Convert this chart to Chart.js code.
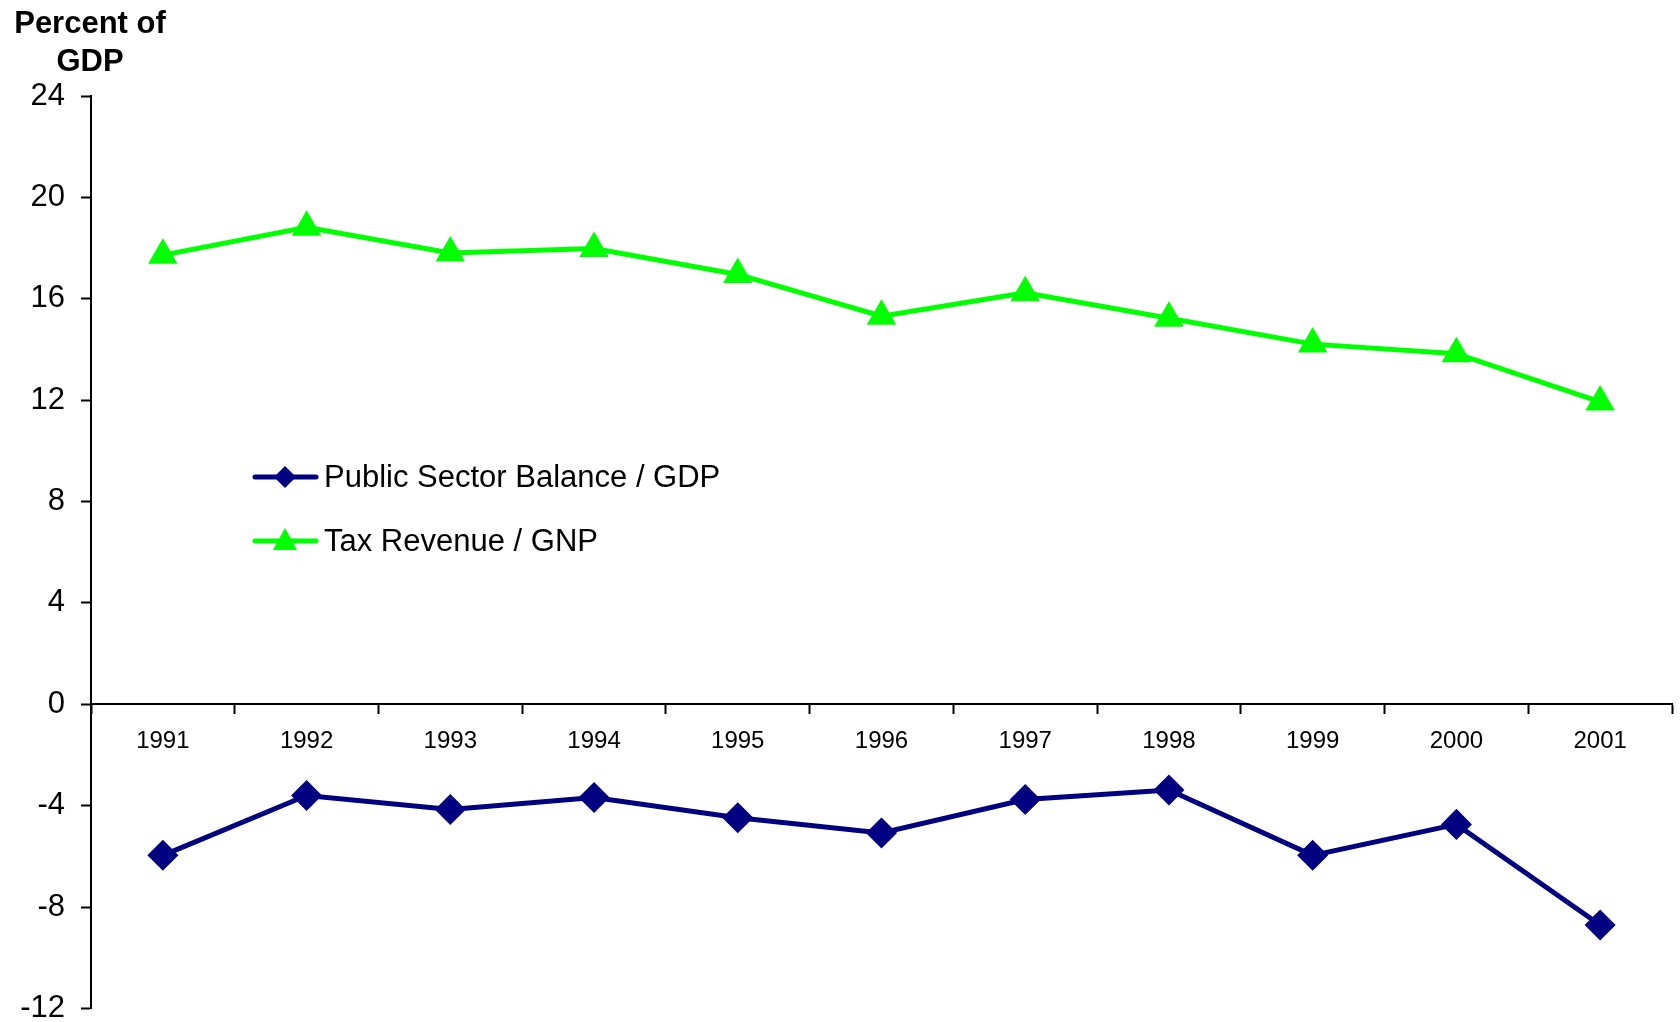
<!DOCTYPE html>
<html>
<head>
<meta charset="utf-8">
<script src="https://cdn.jsdelivr.net/npm/chart.js@4/dist/chart.umd.min.js"></script>
<style>
  html, body { margin: 0; padding: 0; background: #fff; overflow: hidden; }
  #wrap { width: 1680px; height: 1022px; position: relative; overflow: hidden; }
  canvas { position: absolute; left: 0; top: 0; }
</style>
</head>
<body>
<div id="wrap"><canvas id="chart" width="1689" height="1043"></canvas></div>
<script>
// Data
const years = ['1991', '1992', '1993', '1994', '1995', '1996', '1997', '1998', '1999', '2000', '2001'];
const publicBalance = [-5.96, -3.6, -4.15, -3.68, -4.48, -5.08, -3.76, -3.38, -5.96, -4.74, -8.71];
const taxRevenue = [17.72, 18.82, 17.81, 17.98, 16.96, 15.31, 16.24, 15.23, 14.21, 13.83, 11.93];
const yTicks = [-12, -8, -4, 0, 4, 8, 12, 16, 20, 24];
const titleLines = ['Percent of', 'GDP'];

const FONT = 'Arial, "Liberation Sans", sans-serif';

// Title + legend drawn on the canvas
const extras = {
    id: 'extras',
    afterDraw(chart) {
        const ctx = chart.ctx;
        ctx.save();
        ctx.fillStyle = '#000';
        ctx.font = 'bold 31px ' + FONT;
        ctx.textAlign = 'center';
        ctx.textBaseline = 'alphabetic';
        ctx.fillText(titleLines[0], 90, 33);
        ctx.fillText(titleLines[1], 90, 71);

        // legend
        const items = chart.data.datasets;
        const rows = [477, 541];
        items.forEach((ds, i) => {
            const y = rows[i];
            ctx.strokeStyle = ds.borderColor;
            ctx.lineWidth = 5;
            ctx.lineCap = 'round';
            ctx.beginPath();
            ctx.moveTo(255, y);
            ctx.lineTo(316, y);
            ctx.stroke();
            ctx.fillStyle = ds.borderColor;
            ctx.beginPath();
            if (ds.pointStyle === 'rectRot') {
                ctx.moveTo(285, y - 11);
                ctx.lineTo(296, y);
                ctx.lineTo(285, y + 11);
                ctx.lineTo(274, y);
            } else {
                ctx.moveTo(285, y - 13);
                ctx.lineTo(297, y + 9);
                ctx.lineTo(273, y + 9);
            }
            ctx.closePath();
            ctx.fill();
            ctx.fillStyle = '#000';
            ctx.font = '31px ' + FONT;
            ctx.textAlign = 'left';
            ctx.textBaseline = 'middle';
            ctx.fillText(ds.label, 324, y + 1);
        });
        ctx.restore();
    }
};

const chart = new Chart(document.getElementById('chart'), {
    type: 'line',
    data: {
        labels: years,
        datasets: [{
            label: 'Public Sector Balance / GDP',
            data: publicBalance,
            borderColor: '#000080',
            backgroundColor: '#000080',
            borderWidth: 5,
            pointStyle: 'rectRot',
            pointRadius: 12,
            tension: 0
        }, {
            label: 'Tax Revenue / GNP',
            data: taxRevenue,
            borderColor: '#00ff00',
            backgroundColor: '#00ff00',
            borderWidth: 5,
            pointStyle: 'triangle',
            pointRadius: 12,
            tension: 0
        }]
    },
    options: {
        responsive: false,
        animation: false,
        layout: { padding: { top: 96, right: 0, bottom: 4, left: 0 } },
        plugins: {
            legend: { display: false },
            tooltip: { enabled: false }
        },
        scales: {
            x: {
                position: { y: 0 },
                offset: true,
                grid: {
                    offset: true,
                    drawOnChartArea: false,
                    tickLength: 9,
                    tickWidth: 2,
                    tickColor: '#000'
                },
                border: { color: '#000', width: 2 },
                ticks: {
                    color: '#000',
                    font: { family: FONT, size: 24 },
                    padding: 14,
                    maxRotation: 0
                }
            },
            y: {
                min: -12,
                max: 24,
                afterBuildTicks(scale) {
                    scale.ticks = yTicks.map(v => ({ value: v }));
                },
                afterFit(scale) { scale.width = 91; },
                grid: {
                    drawOnChartArea: false,
                    tickLength: 10,
                    tickWidth: 2,
                    tickColor: '#000'
                },
                border: { color: '#000', width: 2 },
                ticks: {
                    color: '#000',
                    font: { family: FONT, size: 31 },
                    padding: 16
                }
            }
        }
    },
    plugins: [extras]
});
</script>
</body>
</html>
